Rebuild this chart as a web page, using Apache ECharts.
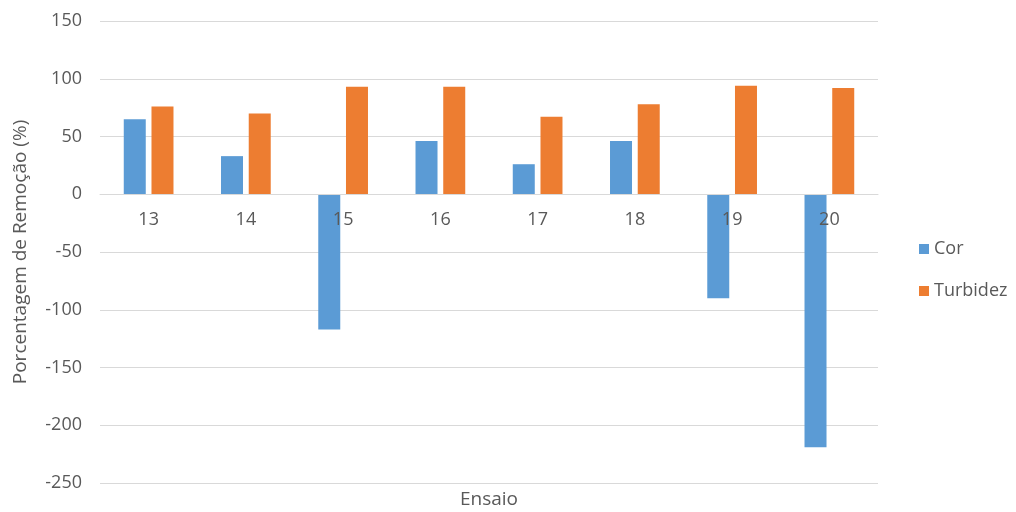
<!DOCTYPE html>
<html>
<head>
<meta charset="utf-8">
<script src="https://cdn.jsdelivr.net/npm/echarts@6/dist/echarts.min.js"></script>
<style>
  html, body { margin: 0; padding: 0; background: #ffffff; }
  #chart { width: 1016px; height: 512px; }
</style>
</head>
<body>
<div id="chart"></div>
<script>
// Ensaios (runs) and removal percentages
const categories = ['13', '14', '15', '16', '17', '18', '19', '20'];
const corValues = [65, 33, -117, 46, 26, 46, -90, -219];
const turbidezValues = [76, 70, 93, 93, 67, 78, 94, 92];
const yTicks = { min: -250, max: 150, interval: 50 };

const textColor = '#595959';
const fontFamily = '"Open Sans", "Noto Sans", sans-serif';

const chartWidth = 1016, chartHeight = 512;
const grid = { left: 100, right: 138, top: 21, bottom: 29 };
// lift the category axis from the bottom edge up to the value 0
const plotHeight = chartHeight - grid.top - grid.bottom;
const zeroOffset = -plotHeight * (0 - yTicks.min) / (yTicks.max - yTicks.min);

const chart = echarts.init(document.getElementById('chart'), null, { renderer: 'canvas' });

chart.setOption({
  animation: false,
  backgroundColor: '#ffffff',
  textStyle: { fontFamily: fontFamily },
  // x-axis title sits below the plot, not at the zero line
  title: {
    text: 'Ensaio',
    left: 489,
    textAlign: 'center',
    top: 490,
    padding: 0,
    textStyle: { color: textColor, fontSize: 19, fontWeight: 'normal', fontFamily: fontFamily }
  },
  grid: Object.assign({ outerBoundsMode: 'none', containLabel: false }, grid),
  legend: {
    orient: 'vertical',
    left: 914,
    top: 235,
    itemGap: 24,
    itemWidth: 10,
    itemHeight: 10,
    icon: 'rect',
    textStyle: { color: textColor, fontSize: 18, fontFamily: fontFamily },
    data: ['Cor', 'Turbidez']
  },
  xAxis: {
    type: 'category',
    data: categories,
    position: 'bottom',
    offset: zeroOffset,
    z: 5,
    axisLine: { onZero: false, lineStyle: { color: '#d9d9d9', width: 1 } },
    axisTick: { show: false },
    axisLabel: { color: textColor, fontSize: 18, margin: 17 }
  },
  yAxis: {
    type: 'value',
    min: yTicks.min,
    max: yTicks.max,
    interval: yTicks.interval,
    name: 'Porcentagem de Remoção (%)',
    nameLocation: 'middle',
    nameGap: 70,
    nameRotate: 90,
    nameTextStyle: { color: textColor, fontSize: 19 },
    axisLine: { show: false },
    axisTick: { show: false },
    axisLabel: { color: textColor, fontSize: 18, margin: 18 },
    splitLine: { lineStyle: { color: '#d9d9d9', width: 1 } }
  },
  series: [
    {
      name: 'Cor',
      type: 'bar',
      data: corValues,
      barWidth: 22,
      barGap: '26%',
      itemStyle: { color: '#5b9bd5' }
    },
    {
      name: 'Turbidez',
      type: 'bar',
      data: turbidezValues,
      barWidth: 22,
      barGap: '26%',
      itemStyle: { color: '#ed7d31' }
    }
  ]
});
</script>
</body>
</html>
